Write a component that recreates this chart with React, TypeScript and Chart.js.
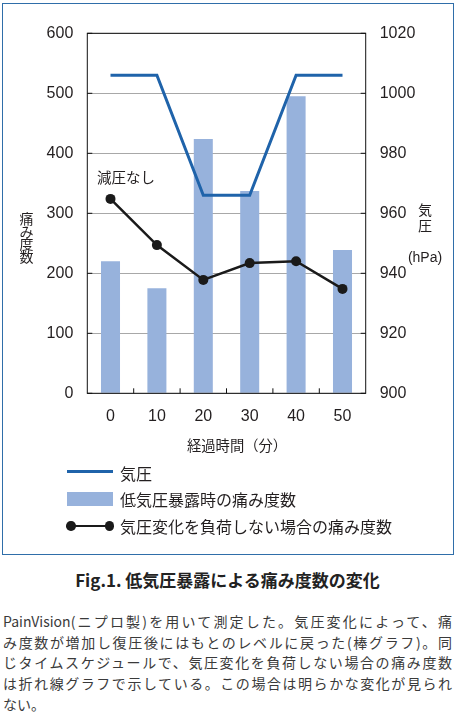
import React, { useEffect, useRef } from 'react';
import { Chart, registerables } from 'chart.js';

Chart.register(...registerables);

// ---- data ----
const timeLabels = ['0', '10', '20', '30', '40', '50'];
const painLowPressure = [220, 175, 424, 337, 495, 239];
const painNoChange = [324, 247, 189, 217, 220, 174];
const pressureHPa = [1006, 1006, 966, 966, 1006, 1006];

const seriesNames = ['気圧', '低気圧暴露時の痛み度数', '気圧変化を負荷しない場合の痛み度数'];
const painRange = [0, 600, 100];
const pressureRange = [900, 1020, 20];

const captionTitle = 'Fig.1. 低気圧暴露による痛み度数の変化';
const captionLines = [
  'PainVision(ニプロ製)を用いて測定した。気圧変化によって、痛',
  'み度数が増加し復圧後にはもとのレベルに戻った(棒グラフ)。同',
  'じタイムスケジュールで、気圧変化を負荷しない場合の痛み度数',
  'は折れ線グラフで示している。この場合は明らかな変化が見られ',
  'ない。',
];

const BLUE = '#1f63aa';
const BAR = '#97b2dc';
const BLACK = '#1a1a1a';
const TEXT = '#231f20';
const JP = '"Noto Sans CJK JP", "Noto Sans", sans-serif';
const LAT = '"Liberation Sans", Arial, sans-serif';

const framePlugin = {
  id: 'frameTicks',
  afterDatasetsDraw(chart: any) {
    const { ctx, chartArea: a, scales } = chart;
    const L = 5;
    ctx.save();
    ctx.strokeStyle = '#111';
    ctx.lineWidth = 1;
    ctx.beginPath();
    scales.y.ticks.forEach((t: any) => {
      const p = scales.y.getPixelForValue(t.value);
      ctx.moveTo(a.left, p);
      ctx.lineTo(a.left + L, p);
    });
    scales.y1.ticks.forEach((t: any) => {
      const p = scales.y1.getPixelForValue(t.value);
      ctx.moveTo(a.right, p);
      ctx.lineTo(a.right - L, p);
    });
    const x = scales.x;
    for (let i = 0; i < timeLabels.length - 1; i++) {
      const p = (x.getPixelForValue(i) + x.getPixelForValue(i + 1)) / 2;
      ctx.moveTo(p, a.bottom);
      ctx.lineTo(p, a.bottom - L);
    }
    ctx.stroke();
    ctx.strokeRect(a.left, a.top, a.right - a.left, a.bottom - a.top);
    ctx.restore();
  },
};

export default function App() {
  const ref = useRef<HTMLCanvasElement>(null);

  useEffect(() => {
    if (!ref.current) return;
    const tickFont = { family: LAT, size: 16 };
    const plain = (v: any) => String(v);
    const chart = new Chart(ref.current, {
      type: 'bar',
      data: {
        labels: timeLabels,
        datasets: [
          {
            type: 'line',
            label: seriesNames[0],
            data: pressureHPa,
            yAxisID: 'y1',
            borderColor: BLUE,
            borderWidth: 3,
            pointRadius: 0,
            tension: 0,
            fill: false,
            order: 1,
          } as any,
          {
            type: 'line',
            label: seriesNames[2],
            data: painNoChange,
            yAxisID: 'y',
            borderColor: BLACK,
            borderWidth: 2.5,
            pointRadius: 5,
            pointBorderWidth: 0,
            pointBackgroundColor: BLACK,
            tension: 0,
            fill: false,
            order: 2,
          } as any,
          {
            type: 'bar',
            label: seriesNames[1],
            data: painLowPressure,
            yAxisID: 'y',
            backgroundColor: BAR,
            categoryPercentage: 1,
            barPercentage: 0.41,
            order: 3,
          } as any,
        ],
      },
      options: {
        responsive: false,
        animation: false,
        layout: { padding: { top: 33.3, left: 0, right: 0, bottom: 0 } },
        plugins: { legend: { display: false }, tooltip: { enabled: false } },
        scales: {
          x: {
            offset: true,
            grid: { display: false, drawTicks: false },
            border: { display: false },
            ticks: { padding: 13.5, font: tickFont, color: TEXT },
            afterFit(s: any) {
              s.height = 66.7;
            },
          },
          y: {
            position: 'left',
            min: painRange[0],
            max: painRange[1],
            ticks: { stepSize: painRange[2], padding: 14, font: tickFont, color: TEXT, callback: plain },
            grid: { color: '#a8a8a8', drawTicks: false, lineWidth: 1 },
            border: { display: false },
            afterFit(s: any) {
              s.width = 87.3;
            },
          },
          y1: {
            position: 'right',
            min: pressureRange[0],
            max: pressureRange[1],
            ticks: { stepSize: pressureRange[2], padding: 14, font: tickFont, color: TEXT, callback: plain },
            grid: { display: false, drawTicks: false },
            border: { display: false },
            afterFit(s: any) {
              s.width = 91.3;
            },
          },
        },
      } as any,
      plugins: [framePlugin],
    });
    return () => chart.destroy();
  }, []);

  const abs = (o: any) => ({ position: 'absolute' as const, ...o });

  return (
    <div
      style={{
        position: 'fixed',
        left: 0,
        top: 0,
        width: 457,
        height: 716,
        background: '#fff',
        overflow: 'hidden',
        fontFamily: JP,
        color: TEXT,
      }}
    >
      {/* framed box */}
      <div
        style={abs({
          left: 2,
          top: 2.5,
          width: 452,
          height: 552,
          border: '1.5px solid #2f6ea9',
          boxSizing: 'border-box',
        })}
      />
      <canvas ref={ref} width={457} height={460} style={abs({ left: 0, top: 0, width: 457, height: 460 })} />

      {/* left axis title */}
      <div style={abs({ left: 19, top: 212, width: 15, fontSize: 14, lineHeight: '12.5px', textAlign: 'center' })}>
        {'痛み度数'.split('').map((c, i) => (
          <div key={i}>{c}</div>
        ))}
      </div>
      {/* right axis title */}
      <div style={abs({ left: 405, top: 201, width: 40, fontSize: 14, lineHeight: '16px', textAlign: 'center' })}>
        <div>気</div>
        <div>圧</div>
      </div>
      <div style={abs({ left: 405, top: 248, width: 40, fontSize: 14, lineHeight: '18px', textAlign: 'center', fontFamily: LAT })}>
        (hPa)
      </div>
      {/* annotation */}
      <div style={abs({ left: 97, top: 168, fontSize: 14.5, lineHeight: '18px', whiteSpace: 'nowrap' })}>減圧なし</div>
      {/* x axis title */}
      <div style={abs({ left: 187, top: 436, fontSize: 14.3, lineHeight: '18px', whiteSpace: 'nowrap' })}>経過時間（分）</div>

      {/* legend */}
      <div style={abs({ left: 67, top: 469.5, width: 46, height: 3, background: BLUE })} />
      <div style={abs({ left: 67, top: 491.5, width: 46, height: 14, background: BAR })} />
      <div style={abs({ left: 70, top: 524.5, width: 40, height: 2.5, background: BLACK })} />
      <div style={abs({ left: 66, top: 521, width: 9.5, height: 9.5, borderRadius: '50%', background: BLACK })} />
      <div style={abs({ left: 104.5, top: 521, width: 9.5, height: 9.5, borderRadius: '50%', background: BLACK })} />
      <div style={abs({ left: 120, top: 462, fontSize: 16, lineHeight: '22px', whiteSpace: 'nowrap' })}>{seriesNames[0]}</div>
      <div style={abs({ left: 120, top: 487.5, fontSize: 16, lineHeight: '22px', whiteSpace: 'nowrap' })}>{seriesNames[1]}</div>
      <div style={abs({ left: 120, top: 515, fontSize: 16, lineHeight: '22px', whiteSpace: 'nowrap' })}>{seriesNames[2]}</div>

      {/* caption */}
      <div
        style={abs({
          left: 0,
          top: 569,
          width: 455,
          textAlign: 'center',
          fontSize: 17,
          fontWeight: 700,
          lineHeight: '22px',
          whiteSpace: 'nowrap',
          color: '#222',
        })}
      >
        {captionTitle}
      </div>
      <div style={abs({ left: 3, top: 611, width: 449, fontSize: 14, lineHeight: '20.7px', color: '#3a3a3a' })}>
        {captionLines.map((l, i) => (
          <div
            key={i}
            style={{
              textAlign: 'justify',
              textAlignLast: i < captionLines.length - 1 ? 'justify' : 'left',
              whiteSpace: 'nowrap',
            }}
          >
            {l}
          </div>
        ))}
      </div>
    </div>
  );
}
